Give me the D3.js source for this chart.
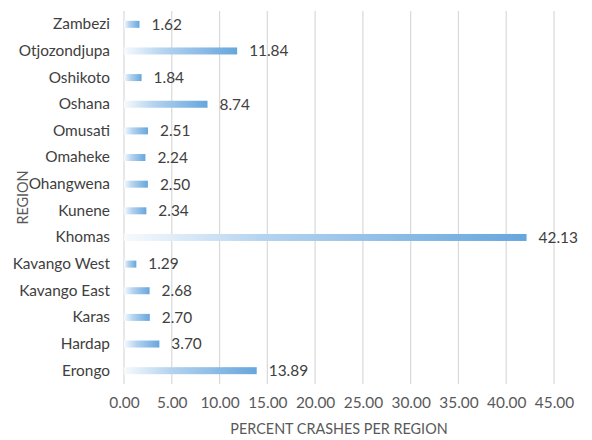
<!DOCTYPE html>
<html>
<head>
<meta charset="utf-8">
<script src="https://cdn.jsdelivr.net/npm/d3@7"></script>
<style>
  body { margin: 0; background: #fff; }
  text { font-family: Lato, "Open Sans", sans-serif; fill: #404040; }
</style>
</head>
<body>
<svg width="592" height="440"></svg>
<script>
// regions, top to bottom as drawn
var regions = ["Zambezi", "Otjozondjupa", "Oshikoto", "Oshana", "Omusati", "Omaheke",
  "Ohangwena", "Kunene", "Khomas", "Kavango West", "Kavango East", "Karas", "Hardap", "Erongo"];
var percents = [1.62, 11.84, 1.84, 8.74, 2.51, 2.24, 2.50, 2.34, 42.13, 1.29, 2.68, 2.70, 3.70, 13.89];
var xTicks = [0, 5, 10, 15, 20, 25, 30, 35, 40, 45];

var svg = d3.select("svg");
var plotL = 124, plotR = 554, plotT = 11, plotB = 384;
var fs = "15.4px";

var x = d3.scaleLinear().domain([0, 45]).range([plotL, plotR]);
var y = d3.scaleBand().domain(regions).range([plotT, plotB]);

var grad = svg.append("defs").append("linearGradient")
  .attr("id", "barGrad").attr("x1", 0).attr("x2", 1).attr("y1", 0).attr("y2", 0);
grad.append("stop").attr("offset", "0%").attr("stop-color", "#f7fafd");
grad.append("stop").attr("offset", "35%").attr("stop-color", "#b4d3ef");
grad.append("stop").attr("offset", "100%").attr("stop-color", "#66a6dd");

// gridlines
svg.append("g").selectAll("line").data(xTicks).enter().append("line")
  .attr("x1", d => x(d)).attr("x2", d => x(d))
  .attr("y1", plotT).attr("y2", plotB)
  .attr("stroke", "#d9d9d9").attr("stroke-width", 1.2);

// x axis labels
var xAxis = d3.axisBottom(x).tickValues(xTicks).tickFormat(d3.format(".2f")).tickSize(0).tickPadding(0);
var gx = svg.append("g").attr("transform", "translate(0," + 397 + ")").call(xAxis);
gx.select(".domain").remove();
gx.selectAll("text").style("font-size", fs).style("fill", "#595959")
  .style("font-family", "Lato, 'Open Sans', sans-serif");

// y axis labels
var yAxis = d3.axisLeft(y).tickSize(0).tickPadding(14);
var gy = svg.append("g").attr("transform", "translate(" + plotL + ",0)").call(yAxis);
gy.select(".domain").remove();
gy.selectAll("text").style("font-size", fs).style("fill", "#404040")
  .style("font-family", "Lato, 'Open Sans', sans-serif");

// bars
var bh = 7;
svg.append("g").selectAll("rect").data(percents).enter().append("rect")
  .attr("x", x(0))
  .attr("y", (d, i) => y(regions[i]) + y.bandwidth() / 2 - bh / 2)
  .attr("width", d => x(d) - x(0))
  .attr("height", bh)
  .attr("fill", "url(#barGrad)");

// value labels
svg.append("g").selectAll("text").data(percents).enter().append("text")
  .attr("x", d => x(d) + 12)
  .attr("y", (d, i) => y(regions[i]) + y.bandwidth() / 2)
  .attr("dy", "0.35em")
  .style("font-size", fs)
  .text(d => d3.format(".2f")(d));

// axis titles
svg.append("text").attr("x", x(22.5)).attr("y", 434)
  .attr("text-anchor", "middle").style("font-size", "14.4px").style("fill", "#595959")
  .text("PERCENT CRASHES PER REGION");
svg.append("text").attr("transform", "translate(28," + (plotT + plotB) / 2 + ") rotate(-90)")
  .attr("text-anchor", "middle").style("font-size", "14.4px").style("fill", "#595959")
  .text("REGION");
</script>
</body>
</html>
